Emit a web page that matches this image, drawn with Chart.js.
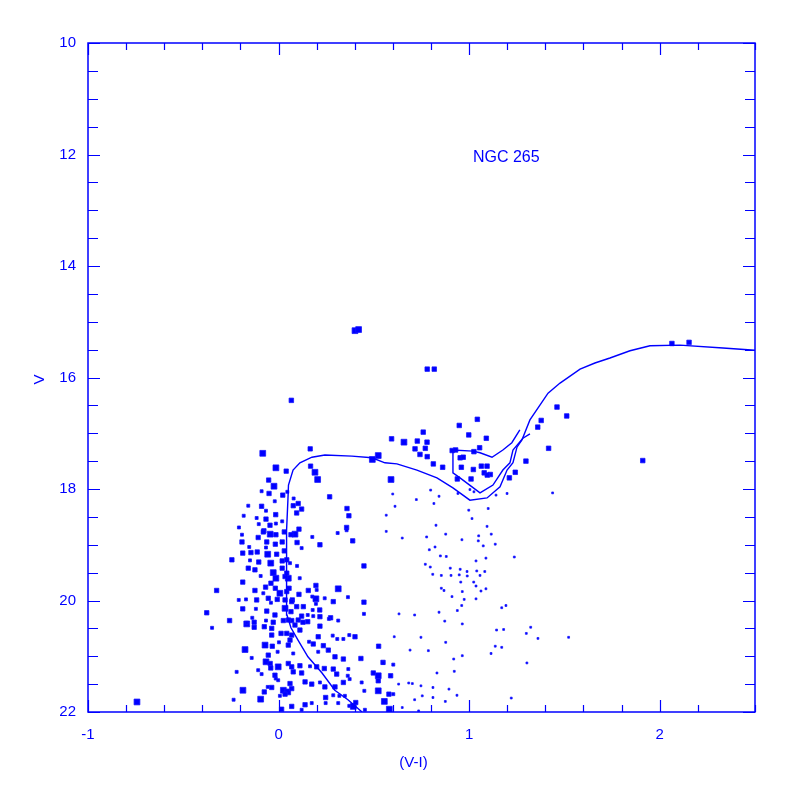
<!DOCTYPE html>
<html>
<head>
<meta charset="utf-8">
<script src="https://cdn.jsdelivr.net/npm/chart.js@4"></script>
<style>
  html, body { margin: 0; padding: 0; background: #fff; }
</style>
</head>
<body>
<canvas id="cmd" width="797" height="797"></canvas>
<script>
// colour-magnitude diagram of NGC 265, values as [V-I, V]

const brightStars = [
  [-0.083,17.36],[-0.014,17.62],[-0.024,17.95],[0.523,17.40],[0.492,17.47],[0.191,17.70],[0.205,17.83],
  [-0.044,18.81],[-0.057,19.17],[-0.041,19.33],[-0.028,19.50],[-0.014,19.60],[0.007,19.87],[0.034,20.14],
  [0.086,18.81],[0.051,19.60],[0.313,19.79],[0.196,19.97],[-0.167,20.42],[-0.176,20.88],[-0.071,20.80],
  [-0.066,21.10],[-0.002,21.19],[-0.187,21.61],[0.025,21.61],[0.048,21.64],[-0.094,21.77],[0.523,21.62],
  [0.392,21.90],[0.401,15.16],[0.420,15.14],[0.658,17.16],[0.590,17.83],[0.523,21.35],[0.555,21.81],
  [0.581,21.95],[-0.743,21.82]
];

const mainStars = [
  [0.040,17.68],[-0.052,17.84],[-0.050,18.08],[0.022,18.11],[-0.089,18.31],[-0.015,18.46],[-0.066,18.54],
  [-0.045,18.65],[-0.077,18.75],[0.077,18.30],[0.166,17.28],[0.168,17.59],[0.103,18.26],[0.121,18.36],
  [0.095,18.43],[0.268,18.14],[0.359,18.35],[0.369,18.48],[0.357,18.69],[0.107,18.72],[-0.107,18.87],
  [-0.192,18.95],[-0.062,18.95],[-0.017,18.99],[-0.188,19.15],[-0.145,19.14],[-0.112,19.13],[-0.010,19.17],
  [-0.245,19.27],[-0.104,19.31],[-0.159,19.42],[-0.124,19.45],[0.019,19.42],[-0.188,19.67],[-0.068,19.76],
  [-0.017,19.78],[-0.325,19.82],[-0.124,19.82],[-0.054,19.96],[-0.115,19.99],[-0.007,19.98],[0.034,19.99],
  [-0.188,20.15],[-0.062,20.19],[-0.019,20.26],[-0.377,20.22],[-0.257,20.36],[-0.028,20.39],[0.097,18.96],
  [0.217,19.00],[0.389,18.93],[0.448,19.38],[0.196,19.73],[0.156,19.82],[0.107,19.89],[0.072,19.99],
  [0.287,20.02],[0.448,20.03],[0.095,20.11],[0.130,20.11],[0.216,20.17],[0.121,20.28],[0.217,20.29],
  [0.273,20.31],[-0.075,20.47],[-0.033,20.82],[-0.054,20.98],[-0.041,21.21],[-0.019,21.34],[0.060,21.49],
  [-0.075,21.64],[-0.036,21.56],[0.034,21.68],[0.016,21.95],[0.069,21.90],[0.217,20.46],[0.401,20.65],
  [0.208,20.65],[0.182,20.78],[0.235,20.81],[0.261,20.89],[0.296,21.01],[0.340,21.05],[0.432,21.04],
  [0.112,21.17],[0.077,21.28],[0.121,21.30],[0.200,21.19],[0.240,21.22],[0.287,21.23],[0.305,21.32],
  [0.497,21.30],[0.139,21.46],[0.174,21.50],[0.243,21.55],[0.340,21.47],[0.296,21.55],[0.247,21.74],
  [0.139,21.87],[0.405,21.83],[0.523,21.44],[0.579,21.68],[0.525,20.82],[0.548,21.11],[0.588,21.35],
  [-0.080,18.77],[-0.014,18.82],[0.030,18.77],[0.065,18.82],[0.019,18.95],[0.030,19.11],[0.019,19.29],
  [0.034,19.57],[-0.040,19.69],[0.043,19.84],[0.069,20.02],[0.025,20.36],[0.069,20.36],[0.043,19.27],
  [0.043,19.51],[0.055,19.78],[0.065,20.20],[0.051,20.35],[0.103,20.35],[0.153,20.38],[-0.128,20.39],
  [-0.128,20.48],[-0.036,20.50],[-0.036,20.62],[0.013,20.59],[0.043,20.59],[0.069,20.62],[0.051,20.80],
  [-0.044,21.13],[0.051,21.13],[0.069,21.19],[0.069,21.58],[0.086,20.44],[0.112,20.53],[0.060,20.71],
  [0.128,20.39]
];

const giantStars = [
  [0.067,16.41],[1.043,16.75],[0.948,16.86],[0.759,16.98],[0.998,17.03],[1.090,17.09],[0.593,17.10],
  [0.728,17.14],[0.779,17.16],[0.716,17.28],[0.770,17.27],[0.742,17.38],[0.780,17.42],[0.911,17.31],
  [0.929,17.30],[1.025,17.33],[1.055,17.26],[0.953,17.44],[0.969,17.43],[0.812,17.55],[0.861,17.61],
  [0.959,17.61],[1.022,17.65],[1.064,17.59],[1.094,17.59],[1.079,17.71],[1.111,17.74],[1.095,17.75],
  [1.010,17.82],[0.938,17.82],[1.211,17.80],[1.242,17.70],[1.461,16.53],[1.512,16.69],[1.378,16.77],
  [1.360,16.89],[1.417,17.27],[1.298,17.50],[0.780,15.85],[0.817,15.85],[1.911,17.49],[2.064,15.39],
  [2.154,15.37]
];

const smallStars = [
  [-0.089,18.04],[-0.020,18.22],[-0.159,18.30],[-0.066,18.39],[-0.183,18.48],[-0.115,18.52],[0.019,18.58],
  [-0.014,18.62],[-0.104,18.63],[-0.208,18.69],[-0.192,18.82],[0.046,18.05],[0.079,18.17],[0.310,18.79],
  [-0.154,19.04],[-0.066,19.05],[-0.150,19.28],[0.060,19.33],[-0.094,19.56],[-0.080,19.87],[-0.209,19.99],
  [-0.171,19.98],[-0.040,20.04],[-0.119,20.15],[-0.167,20.40],[-0.138,20.31],[-0.066,20.36],[0.177,18.86],
  [0.121,19.06],[0.097,19.38],[0.111,19.60],[0.200,19.81],[0.177,19.93],[0.242,19.96],[0.364,19.94],
  [0.196,20.06],[0.179,20.17],[0.448,20.24],[0.153,20.26],[0.182,20.28],[0.264,20.33],[0.313,20.36],
  [-0.349,20.49],[0.002,20.75],[-0.141,21.03],[-0.005,20.92],[0.077,20.95],[-0.107,21.25],[-0.220,21.28],
  [-0.089,21.32],[-0.015,21.40],[-0.002,21.43],[-0.057,21.55],[0.007,21.71],[-0.236,21.78],[0.284,20.63],
  [0.308,20.69],[0.340,20.69],[0.371,20.62],[0.160,20.74],[0.208,20.92],[0.549,21.12],[0.165,21.18],
  [0.366,21.23],[0.363,21.35],[0.373,21.41],[0.217,21.47],[0.436,21.47],[0.287,21.70],[0.319,21.71],
  [0.348,21.71],[0.450,21.62],[0.174,21.84],[0.247,21.84],[0.313,21.84],[0.371,21.89],[0.453,21.96],
  [0.121,21.96],[0.602,21.68],[0.602,21.15],[0.357,18.74]
];

const faintStars = [
  [0.599,18.09],[0.798,18.02],[0.842,18.13],[0.941,18.08],[1.004,18.01],[1.025,18.05],[0.723,18.19],
  [1.141,18.11],[1.199,18.08],[1.438,18.07],[1.100,18.35],[0.611,18.31],[0.815,18.26],[0.565,18.47],
  [0.998,18.38],[1.015,18.53],[0.826,18.65],[0.565,18.76],[0.877,18.81],[0.649,18.88],[0.777,18.86],
  [0.962,18.91],[0.821,19.04],[0.791,19.09],[0.849,19.20],[0.880,19.21],[0.770,19.35],[0.796,19.40],
  [0.901,19.42],[0.953,19.44],[0.989,19.48],[0.809,19.53],[0.854,19.55],[0.905,19.55],[0.948,19.54],
  [0.990,19.56],[1.024,19.67],[0.956,19.67],[0.854,19.78],[1.094,18.67],[1.116,18.81],[1.050,18.84],
  [1.048,18.93],[1.137,18.99],[1.074,19.02],[1.237,19.22],[1.088,19.24],[1.036,19.29],[1.040,19.47],
  [1.082,19.48],[1.057,19.55],[1.036,19.74],[1.088,19.79],[0.868,19.82],[0.964,19.84],[0.910,19.93],
  [0.974,19.98],[0.961,20.09],[0.938,20.18],[0.842,20.21],[0.632,20.24],[0.714,20.26],[0.872,20.37],
  [0.964,20.42],[0.607,20.65],[0.747,20.66],[0.877,20.75],[0.690,20.89],[0.786,20.90],[0.919,21.05],
  [0.964,20.99],[0.831,21.30],[0.922,21.27],[0.683,21.48],[0.702,21.49],[0.747,21.53],[0.810,21.56],
  [0.630,21.50],[0.894,21.59],[0.754,21.71],[0.810,21.74],[0.936,21.70],[0.714,21.78],[0.875,21.81],
  [0.649,21.92],[0.735,21.98],[1.062,19.83],[1.036,19.97],[1.171,20.13],[1.193,20.09],[1.144,20.53],
  [1.181,20.52],[1.323,20.48],[1.300,20.59],[1.361,20.68],[1.522,20.66],[1.137,20.82],[1.171,20.84],
  [1.115,20.95],[1.303,21.12],[1.221,21.75]
];

// isochrone: main sequence -> subgiant -> giant branch
const isoVI = [0.438,0.364,0.295,0.228,0.154,0.102,0.065,0.044,0.041,0.041,0.044,0.049,0.052,0.076,0.112,
  0.175,0.243,0.385,0.490,0.558,0.621,0.726,0.831,0.915,1.004,1.094,1.162,1.199,1.230,1.251,1.277,1.319,
  1.414,1.477,1.582,1.660,1.739,1.844,1.949,2.106,2.332,2.50];
const isoV = [22.0,21.78,21.61,21.30,21.01,20.71,20.49,20.26,19.81,19.27,18.74,18.20,17.93,17.66,17.53,
  17.43,17.39,17.41,17.44,17.53,17.55,17.66,17.80,17.98,18.20,18.16,17.96,17.66,17.53,17.25,17.12,16.76,
  16.28,16.10,15.85,15.74,15.65,15.52,15.43,15.42,15.47,15.51];

// helium burning loop
const loopVI = [1.319,1.282,1.230,1.214,1.177,1.125,1.057,0.952,0.915,0.915,1.020,1.057,1.120,1.177,1.224,1.266];
const loopV = [17.01,17.09,17.30,17.53,17.66,17.93,18.07,17.80,17.71,17.30,17.32,17.35,17.43,17.30,17.17,16.94];

const blue = '#0000ff';
const fontFamily = '"Liberation Sans", Arial, Helvetica, sans-serif';

function stars(label, pts, r) {
  return {
    type: 'scatter',
    label: label,
    data: pts.map(p => ({ x: p[0], y: p[1] })),
    pointStyle: 'rect',
    pointRadius: r,
    pointHoverRadius: r,
    backgroundColor: blue,
    borderColor: 'rgba(20,20,255,0.75)',
    borderWidth: 1
  };
}

function track(label, vi, v) {
  return {
    type: 'line',
    label: label,
    data: vi.map((c, i) => ({ x: c, y: v[i] })),
    borderColor: blue,
    borderWidth: 1.4,
    pointRadius: 0,
    fill: false,
    tension: 0
  };
}

function isWhole(v, step) {
  return Math.abs(v / step - Math.round(v / step)) < 1e-6;
}

// box round the plot with inward ticks on all four sides
const frame = {
  id: 'frame',
  afterDatasetsDraw(chart) {
    const { ctx, chartArea: a, scales: { x, y } } = chart;
    ctx.save();
    ctx.strokeStyle = blue;
    ctx.lineWidth = 1.5;
    ctx.strokeRect(a.left, a.top, a.right - a.left, a.bottom - a.top);
    ctx.lineWidth = 1.2;
    ctx.beginPath();
    x.ticks.forEach(t => {
      const px = Math.round(x.getPixelForValue(t.value)) + 0.5;
      const len = isWhole(t.value, 1) ? 12 : 7;
      ctx.moveTo(px, a.bottom); ctx.lineTo(px, a.bottom - len);
      ctx.moveTo(px, a.top); ctx.lineTo(px, a.top + len);
    });
    y.ticks.forEach(t => {
      const py = Math.round(y.getPixelForValue(t.value)) + 0.5;
      const len = isWhole(t.value, 2) ? 12 : 10;
      ctx.moveTo(a.left, py); ctx.lineTo(a.left + len, py);
      ctx.moveTo(a.right, py); ctx.lineTo(a.right - len, py);
    });
    ctx.stroke();

    ctx.fillStyle = blue;
    ctx.font = '16px ' + fontFamily;
    ctx.textAlign = 'left';
    ctx.textBaseline = 'middle';
    ctx.fillText('NGC 265', x.getPixelForValue(1.02), y.getPixelForValue(12.06));

    ctx.font = '15px ' + fontFamily;
    ctx.textAlign = 'center';
    ctx.fillText('(V-I)', (a.left + a.right) / 2 - 8, a.bottom + 51);
    ctx.save();
    ctx.translate(40, (a.top + a.bottom) / 2 + 2);
    ctx.rotate(-Math.PI / 2);
    ctx.fillText('V', 0, 0);
    ctx.restore();
    ctx.restore();
  }
};

new Chart(document.getElementById('cmd'), {
  type: 'scatter',
  data: {
    datasets: [
      track('isochrone', isoVI, isoV),
      track('loop', loopVI, loopV),
      stars('faint', faintStars, 1.3),
      stars('small', smallStars, 2.1),
      stars('main', mainStars, 3.1),
      stars('giants', giantStars, 3.2),
      stars('bright', brightStars, 4.1)
    ]
  },
  options: {
    responsive: false,
    animation: false,
    devicePixelRatio: 1,
    layout: { padding: { top: 43, right: 42, left: 0, bottom: 0 } },
    plugins: {
      legend: { display: false },
      tooltip: { enabled: false }
    },
    scales: {
      x: {
        type: 'linear',
        min: -1,
        max: 2.5,
        afterFit: s => { s.height = 85; },
        grid: { display: false, drawTicks: false },
        border: { display: false },
        ticks: {
          stepSize: 0.2,
          autoSkip: false,
          maxRotation: 0,
          padding: 14,
          color: blue,
          font: { family: fontFamily, size: 15 },
          callback: v => isWhole(v, 1) ? String(Math.round(v)) : ''
        }
      },
      y: {
        type: 'linear',
        reverse: true,
        min: 10,
        max: 22,
        afterFit: s => { s.width = 88; },
        grid: { display: false, drawTicks: false },
        border: { display: false },
        ticks: {
          stepSize: 0.5,
          autoSkip: false,
          padding: 12,
          color: blue,
          font: { family: fontFamily, size: 15 },
          callback: v => isWhole(v, 2) ? String(Math.round(v)) : ''
        }
      }
    }
  },
  plugins: [frame]
});
</script>
</body>
</html>
